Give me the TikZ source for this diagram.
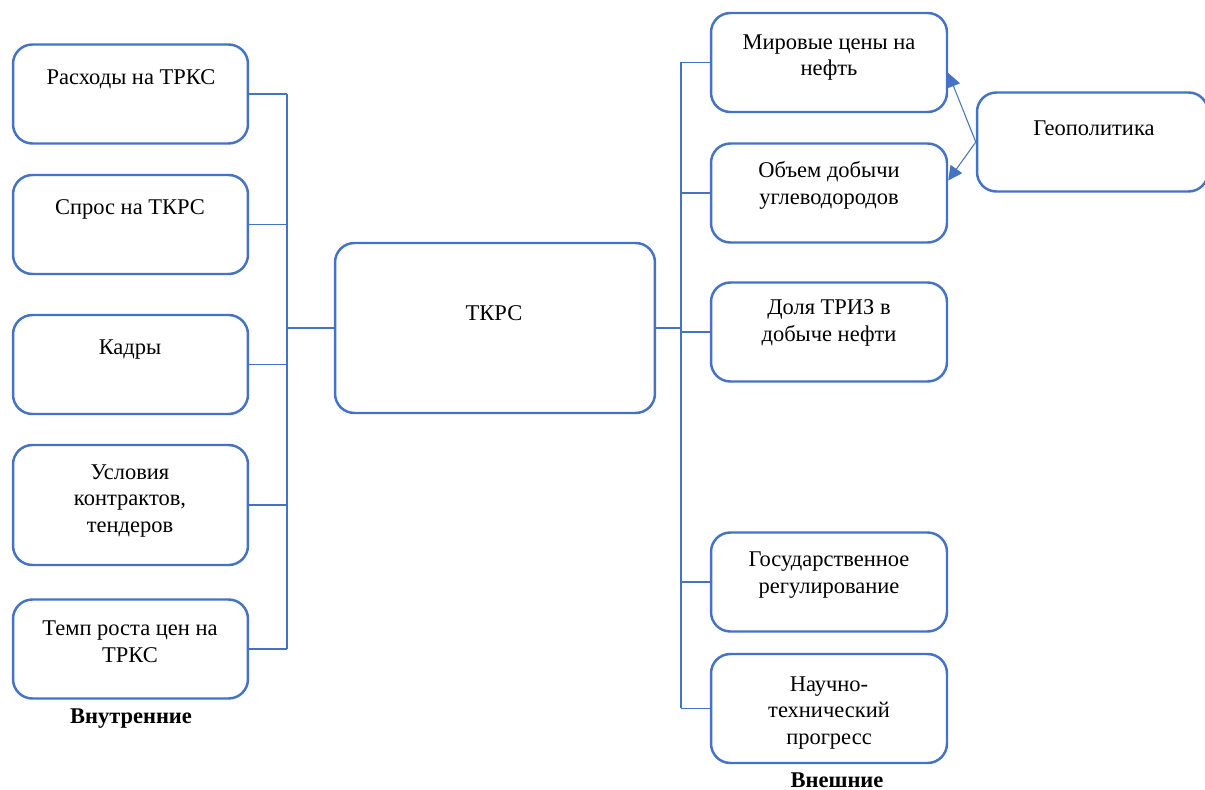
\documentclass[tikz,border=0pt]{standalone}
\usepackage{fontspec}
\setmainfont{Liberation Serif}
\usepackage{tikz}
\usetikzlibrary{arrows.meta}
\definecolor{wblue}{HTML}{4472C4}

\begin{document}
\begin{tikzpicture}[x=0.02cm, y=-0.02cm,
    box/.style={draw=wblue, line width=1.4pt, rounded corners=11pt,
      minimum width=6.7cm, minimum height=#1, inner sep=0pt},
    box/.default=1.98cm,
    txt/.style={align=center, font=\fontsize{12.8}{15.3}\selectfont, inner sep=0pt},
    conn/.style={draw=wblue, line width=0.6pt},
    arr/.style={conn, -{Triangle[length=8pt,width=8pt]}}]
  \useasboundingbox (0,0) rectangle (1205,790);
  % internal factors
  \node[box, minimum width=4.7cm] (rash) at (130.5,94) {};
  \node[box, minimum width=4.7cm] (spros) at (130.5,224.5) {};
  \node[box, minimum width=4.7cm] (kadry) at (130.5,364.5) {};
  \node[box=2.4cm, minimum width=4.7cm] (usl) at (130.5,505) {};
  \node[box, minimum width=4.7cm] (temp) at (130.5,649) {};
  \node[txt] (rash-t) at (131,79) {Расходы на ТРКС};
  \node[txt] (spros-t) at (130,209) {Спрос на ТКРС};
  \node[txt] (kadry-t) at (130,350) {Кадры};
  \node[txt] (usl-t) at (130,501) {Условия\\контрактов,\\тендеров};
  \node[txt] (temp-t) at (130,642) {Темп роста цен на\\ТРКС};
  \node[txt, font=\fontsize{12.8}{15.3}\selectfont\bfseries] (vnutr) at (131,719) {Внутренние};
  % center
  \node[box=3.4cm, minimum width=6.4cm] (tkrs) at (495,328) {};
  \node[txt] (tkrs-t) at (494,313) {ТКРС};
  % external factors
  \node[box, minimum width=4.72cm] (mir) at (829,62.5) {};
  \node[box, minimum width=4.72cm] (obem) at (829,193) {};
  \node[box, minimum width=4.72cm] (dolya) at (829,332) {};
  \node[box, minimum width=4.72cm] (gos) at (829,582) {};
  \node[box=2.18cm, minimum width=4.72cm] (nauch) at (829,708.5) {};
  \node[box, minimum width=4.62cm] (geo) at (1092.5,142) {};
  \node[txt] (mir-t) at (829,57.5) {Мировые цены на\\нефть};
  \node[txt] (obem-t) at (829,185.5) {Объем добычи\\углеводородов};
  \node[txt] (dolya-t) at (829,323) {Доля ТРИЗ в\\добыче нефти};
  \node[txt] (gos-t) at (829,575) {Государственное\\регулирование};
  \node[txt] (nauch-t) at (829,713) {Научно-\\технический\\прогресс};
  \node[txt] (geo-t) at (1094,128) {Геополитика};
  \node[txt, font=\fontsize{12.8}{15.3}\selectfont\bfseries] (vnesh) at (837,780) {Внешние};
  % buses
  \coordinate (lb) at (287,0);
  \coordinate (rb) at (681,0);
  \draw[conn] (rash.east -| lb) -- (temp.east -| lb);
  \foreach \n in {rash,spros,kadry,usl,temp}
    \draw[conn] (\n.east) -- (\n.east -| lb);
  \draw[conn] (tkrs.west -| lb) -- (tkrs.west);
  \draw[conn] (tkrs.east) -- (tkrs.east -| rb);
  \draw[conn] (mir.west -| rb) -- (nauch.west -| rb);
  \foreach \n in {mir,obem,dolya,gos,nauch}
    \draw[conn] (\n.west -| rb) -- (\n.west);
  % geopolitics
  \draw[arr] (geo.west) -- (mir.-5);
  \draw[arr] (geo.west) -- (obem.6);
\end{tikzpicture}
\end{document}
